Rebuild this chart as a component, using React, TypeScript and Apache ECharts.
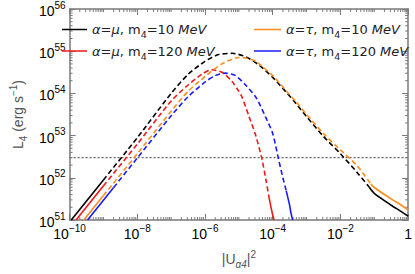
import React, { useEffect, useRef } from "react";
import * as echarts from "echarts";

// ---- axis ranges ----
const X_MIN = 1e-10;
const X_MAX = 1;
const Y_MIN = 1e51;
const Y_MAX = 1e56;
const X_DECADES = [-10, -9, -8, -7, -6, -5, -4, -3, -2, -1, 0];
const Y_DECADES = [51, 52, 53, 54, 55, 56];

// ---- horizontal dotted reference level ----
const THRESHOLD_L = 3e52;

// ---- legend labels ----
const NAME_MU10 = "α=μ, m4=10 MeV";
const NAME_MU120 = "α=μ, m4=120 MeV";
const NAME_TAU10 = "α=τ, m4=10 MeV";
const NAME_TAU120 = "α=τ, m4=120 MeV";

// ---- α=μ, m4=10 MeV (black) ----
const MU10_U2 = [1.12e-10, 1e-9, 1e-8, 1e-7, 3.16e-7, 1e-6, 2.51e-6, 6.31e-6, 1.58e-5, 3.98e-5, 1e-4, 2.51e-4, 5.01e-4, 1e-3, 3.16e-3, 1e-2, 3.16e-2, 7.08e-2, 0.1, 0.316, 0.631, 1];
const MU10_L = [1e51, 8.91e51, 8.91e52, 1e54, 2.82e54, 5.75e54, 8.32e54, 8.91e54, 7.41e54, 4.68e54, 2.4e54, 1.07e54, 5.62e53, 2.82e53, 9.55e52, 3.72e52, 1.32e52, 6.03e51, 4.27e51, 2.24e51, 1.58e51, 1.23e51];
const MU10_DASHED = [1, 17];

// ---- α=τ, m4=10 MeV (orange) ----
const TAU10_U2 = [2.63e-10, 1e-9, 1e-8, 1e-7, 3.16e-7, 1e-6, 3.16e-6, 1e-5, 1.58e-5, 3.16e-5, 1e-4, 2.51e-4, 5.01e-4, 1e-3, 3.16e-3, 1e-2, 3.16e-2, 7.94e-2, 0.1, 0.316, 0.631, 1];
const TAU10_L = [1e51, 3.8e51, 3.72e52, 3.8e53, 1.12e54, 2.51e54, 5.01e54, 7.08e54, 6.92e54, 5.75e54, 2.63e54, 1.15e54, 6.17e53, 3.16e53, 1.12e53, 4.57e52, 1.91e52, 7.08e51, 5.89e51, 3.16e51, 2.24e51, 1.74e51];
const TAU10_DASHED = [1, 17];

// ---- α=μ, m4=120 MeV (red) ----
const MU120_U2 = [1.55e-10, 1e-9, 1e-8, 1e-7, 3.16e-7, 7.94e-7, 1.58e-6, 3.16e-6, 6.31e-6, 1e-5, 1.26e-5, 2.0e-5, 3.16e-5, 4.79e-5, 6.31e-5, 7.94e-5, 8.91e-5, 1e-4, 1.1e-4];
const MU120_L = [1e51, 6.46e51, 6.31e52, 6.61e53, 1.58e54, 2.82e54, 3.63e54, 3.16e54, 1.91e54, 1.12e54, 7.94e53, 2.82e53, 1e53, 2.82e52, 8.91e51, 3.16e51, 2.0e51, 1.32e51, 1e51];
const MU120_DASHED = [1, 15];

// ---- α=τ, m4=120 MeV (blue) ----
const TAU120_U2 = [3.39e-10, 2.0e-9, 1e-8, 1e-7, 3.16e-7, 1e-6, 2.0e-6, 3.98e-6, 7.94e-6, 1.58e-5, 3.24e-5, 6.17e-5, 1e-4, 1.48e-4, 2.0e-4, 2.51e-4, 3.16e-4, 3.47e-4, 3.89e-4];
const TAU120_L = [1e51, 5.89e51, 2.95e52, 2.95e53, 8.32e53, 1.86e54, 2.63e54, 3.02e54, 2.63e54, 1.58e54, 7.94e53, 2.75e53, 1.12e53, 2.82e52, 1e52, 4.9e51, 2.24e51, 1.45e51, 1e51];
const TAU120_DASHED = [1, 15];

const FONT = "Liberation Sans";
const LEGEND_FONT = "DejaVu Sans";

type Curve = { name: string; color: string; u2: number[]; L: number[]; dashed: number[] };

const CURVES: Curve[] = [
  { name: NAME_MU10, color: "#000000", u2: MU10_U2, L: MU10_L, dashed: MU10_DASHED },
  { name: NAME_MU120, color: "#f01818", u2: MU120_U2, L: MU120_L, dashed: MU120_DASHED },
  { name: NAME_TAU10, color: "#ff8c1a", u2: TAU10_U2, L: TAU10_L, dashed: TAU10_DASHED },
  { name: NAME_TAU120, color: "#1a1aff", u2: TAU120_U2, L: TAU120_L, dashed: TAU120_DASHED },
];

function pairs(c: Curve, from: number, to: number) {
  const out: number[][] = [];
  for (let i = from; i <= to; i++) out.push([c.u2[i], c.L[i]]);
  return out;
}

function curveSeries(c: Curve) {
  const [a, b] = c.dashed;
  const base = {
    type: "line",
    name: c.name,
    showSymbol: false,
    symbol: "none",
    smooth: 0.25,
    color: c.color,
    xAxisIndex: 0,
    yAxisIndex: 0,
    silent: true,
  };
  return [
    { ...base, data: pairs(c, 0, a), lineStyle: { color: c.color, width: 1.6, type: "solid" } },
    { ...base, data: pairs(c, a, b), lineStyle: { color: c.color, width: 1.6, type: [5, 3] } },
    { ...base, data: pairs(c, b, c.u2.length - 1), lineStyle: { color: c.color, width: 1.6, type: "solid" } },
  ];
}

// minor tick positions (axis decoration)
function xMinorTicks() {
  const out: number[][] = [];
  for (let i = 0; i < X_DECADES.length - 1; i++) {
    const e = X_DECADES[i];
    if (i % 2 === 1) out.push([Math.pow(10, e), Y_MIN, 3]);
    for (let k = 2; k <= 9; k++) out.push([k * Math.pow(10, e), Y_MIN, 3]);
  }
  return out;
}
function yMinorTicks() {
  const out: number[][] = [];
  for (let i = 0; i < Y_DECADES.length - 1; i++) {
    const e = Y_DECADES[i];
    for (let k = 2; k <= 9; k++) out.push([X_MIN, k * Math.pow(10, e), 3]);
  }
  return out;
}

const AXIS_COLOR = "#7a7a7a";
const TICK_STYLE = { stroke: AXIS_COLOR, lineWidth: 1 };

function expLabel(v: number) {
  const e = Math.round(Math.log10(v));
  if (e === 0) return "{b|1}";
  return `{b|10}{e|${e < 0 ? "−" : ""}${Math.abs(e)}}`;
}

const LABEL_RICH = {
  b: { fontSize: 14, fontFamily: FONT, color: "#000", lineHeight: 18, verticalAlign: "bottom" },
  e: { fontSize: 10, fontFamily: FONT, color: "#000", lineHeight: 10, verticalAlign: "top" },
};

const LEGEND_RICH = {
  i: { fontSize: 13, fontFamily: LEGEND_FONT, fontStyle: "italic", color: "#222", lineHeight: 20, verticalAlign: "middle" },
  n: { fontSize: 13, fontFamily: LEGEND_FONT, color: "#222", lineHeight: 20, verticalAlign: "middle" },
  s: { fontSize: 9.5, fontFamily: LEGEND_FONT, color: "#222", lineHeight: 10, verticalAlign: "bottom" },
};

function legendFormatter(name: string) {
  const m = name.match(/^α=(.), m4=(\d+) MeV$/);
  if (!m) return name;
  return `{i|α=${m[1]}}{n|, m}{s|4}{n|=${m[2]} }{i|MeV}`;
}

function buildOption() {
  const series: any[] = [];
  CURVES.forEach((c) => series.push(...curveSeries(c)));
  series.push({
    type: "line",
    name: "threshold",
    showSymbol: false,
    symbol: "none",
    silent: true,
    data: [
      [X_MIN, THRESHOLD_L],
      [X_MAX, THRESHOLD_L],
    ],
    lineStyle: { color: "#666", width: 1.4, type: [2, 2] },
    z: 1,
  });
  series.push({
    type: "custom",
    name: "xminor",
    silent: true,
    xAxisIndex: 0,
    yAxisIndex: 0,
    data: xMinorTicks(),
    renderItem: (_p: any, api: any) => {
      const v = api.value(0);
      const len = api.value(2);
      const b = api.coord([v, Y_MIN]);
      const t = api.coord([v, Y_MAX]);
      return {
        type: "group",
        children: [
          { type: "line", shape: { x1: b[0], y1: b[1], x2: b[0], y2: b[1] - len }, style: TICK_STYLE },
          { type: "line", shape: { x1: t[0], y1: t[1], x2: t[0], y2: t[1] + len }, style: TICK_STYLE },
        ],
      };
    },
  });
  series.push({
    type: "custom",
    name: "yminor",
    silent: true,
    xAxisIndex: 0,
    yAxisIndex: 0,
    data: yMinorTicks(),
    renderItem: (_p: any, api: any) => {
      const v = api.value(1);
      const len = api.value(2);
      const l = api.coord([X_MIN, v]);
      const r = api.coord([X_MAX, v]);
      return {
        type: "group",
        children: [
          { type: "line", shape: { x1: l[0], y1: l[1], x2: l[0] + len, y2: l[1] }, style: TICK_STYLE },
          { type: "line", shape: { x1: r[0], y1: r[1], x2: r[0] - len, y2: r[1] }, style: TICK_STYLE },
        ],
      };
    },
  });

  const axisCommon = {
    type: "log",
    logBase: 10,
    axisLine: { show: true, lineStyle: { color: AXIS_COLOR, width: 1.5 } },
    axisTick: { show: true, inside: true, length: 6, lineStyle: { color: AXIS_COLOR, width: 1 } },
    splitLine: { show: false },
    minorTick: { show: false },
  };

  const legendCommon = {
    top: 23,
    padding: 0,
    orient: "vertical",
    icon: "rect",
    itemHeight: 1.5,
    itemGap: 5,
    formatter: legendFormatter,
    textStyle: { rich: LEGEND_RICH },
    selectedMode: false,
  };

  return {
    animation: false,
    backgroundColor: "#fff",
    textStyle: { fontFamily: FONT },
    grid: { left: 55, right: 6, top: 8, bottom: 47, containLabel: false },
    legend: [
      { ...legendCommon, left: 62, itemWidth: 25, data: [NAME_MU10, NAME_MU120] },
      { ...legendCommon, left: 254, itemWidth: 27, data: [NAME_TAU10, NAME_TAU120] },
    ],
    xAxis: [
      {
        ...axisCommon,
        position: "bottom",
        min: X_MIN,
        max: X_MAX,
        interval: 2,
        splitNumber: 5,
        axisLabel: { formatter: expLabel, margin: 3, rich: LABEL_RICH },
        name: "{n||U}{s|α4}{n||}{p|2}",
        nameLocation: "middle",
        nameGap: 29,
        nameTextStyle: {
          rich: {
            n: { fontSize: 14, fontFamily: FONT, color: "#555", lineHeight: 20, verticalAlign: "middle" },
            s: { fontSize: 10, fontFamily: FONT, fontStyle: "italic", color: "#555", lineHeight: 10, verticalAlign: "bottom" },
            p: { fontSize: 10, fontFamily: FONT, color: "#555", lineHeight: 10, verticalAlign: "top" },
          },
        },
      },
      {
        ...axisCommon,
        position: "top",
        min: X_MIN,
        max: X_MAX,
        interval: 2,
        splitNumber: 5,
        axisLabel: { show: false },
      },
    ],
    yAxis: [
      {
        ...axisCommon,
        position: "left",
        min: Y_MIN,
        max: Y_MAX,
        interval: 1,
        splitNumber: 5,
        axisLabel: { formatter: expLabel, margin: 4, rich: LABEL_RICH },
        name: "{n|L}{s|4}{n| (erg s}{p|−1}{n|)}",
        nameLocation: "middle",
        nameGap: 40,
        nameTextStyle: {
          rich: {
            n: { fontSize: 14, fontFamily: FONT, color: "#555", lineHeight: 20, verticalAlign: "middle" },
            s: { fontSize: 10, fontFamily: FONT, color: "#555", lineHeight: 10, verticalAlign: "bottom" },
            p: { fontSize: 10, fontFamily: FONT, color: "#555", lineHeight: 10, verticalAlign: "top" },
          },
        },
      },
      {
        ...axisCommon,
        position: "right",
        min: Y_MIN,
        max: Y_MAX,
        interval: 1,
        splitNumber: 5,
        axisLabel: { show: false },
      },
    ],
    series,
  };
}

export default function App() {
  const ref = useRef<HTMLDivElement>(null);
  useEffect(() => {
    if (!ref.current) return;
    const chart = echarts.init(ref.current, null, { renderer: "svg" });
    chart.setOption(buildOption() as any);
    return () => chart.dispose();
  }, []);
  return (
    <div style={{ position: "absolute", left: 0, top: 0, width: 415, height: 274 }}>
      <div ref={ref} style={{ width: 415, height: 274 }} />
    </div>
  );
}
